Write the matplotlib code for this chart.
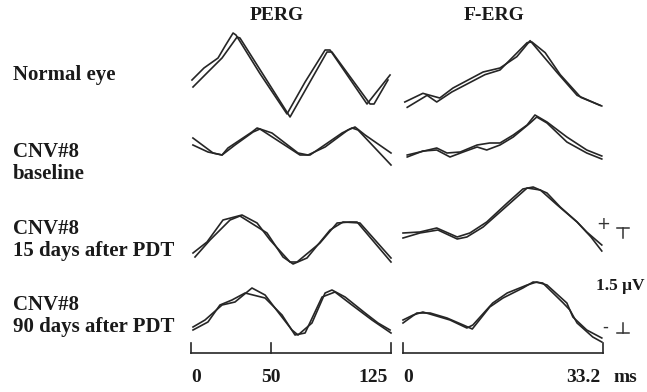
import matplotlib
matplotlib.use("Agg")
import matplotlib.pyplot as plt
import numpy as np

# PERG traces : temps (ms), amplitude (µV) relative à la ligne de base de chaque ligne
perg_t = [
    ([0.6, 8.1, 16.9, 21.3, 26.3, 28.1, 43.0, 60.0, 71.3, 83.8, 86.9, 110.0, 124.4],
     [1.25, 10.6, 19.4, 28.8, 30.6, 61.9, 85.0, 88.1, 111.9, 114.4, 123.1]),
    ([1.2, 13.8, 19.4, 23.1, 38.1, 41.3, 50.6, 66.9, 73.1, 83.8, 98.1, 102.5, 108.8, 125.0],
     [1.2, 10.6, 19.4, 27.5, 38.8, 43.1, 68.1, 74.4, 94.4, 100.6, 104.4, 125.0]),
    ([1.25, 10.0, 20.0, 31.9, 41.3, 49.4, 61.9, 66.3, 80.6, 91.3, 99.4, 103.8, 125.0],
     [2.5, 11.9, 24.4, 30.6, 47.5, 57.5, 63.8, 72.5, 86.9, 95.0, 105.6, 125.0]),
    ([1.25, 8.75, 19.4, 27.5, 38.1, 46.3, 54.4, 63.1, 66.9, 75.6, 83.8, 88.1, 96.3, 108.8, 116.9, 124.4],
     [1.25, 10.6, 18.1, 25.6, 33.8, 46.3, 56.9, 65.0, 71.3, 81.9, 90.0, 100.6, 113.1, 125.0]),
]
perg_v = [
    ([0.0, 0.18, 0.33, 0.51, 0.705, 0.675, 0.1, -0.51, -0.03, 0.45, 0.45, -0.36, 0.075],
     [-0.105, 0.12, 0.33, 0.645, 0.63, -0.555, 0.42, 0.42, -0.36, -0.36, 0.0]),
    ([0.105, -0.12, -0.15, -0.045, 0.195, 0.255, 0.18, -0.12, -0.15, -0.03, 0.225, 0.27, 0.15, -0.12],
     [0.0, -0.105, -0.15, 0.0, 0.195, 0.24, -0.15, -0.15, 0.18, 0.255, 0.225, -0.3]),
    ([-0.195, -0.03, 0.3, 0.375, 0.255, 0.0, -0.33, -0.33, -0.045, 0.255, 0.27, 0.27, -0.33],
     [-0.255, 0.0, 0.3, 0.36, 0.105, -0.255, -0.36, -0.27, 0.15, 0.27, 0.255, -0.27]),
    ([-0.18, -0.075, 0.15, 0.195, 0.405, 0.3, 0.045, -0.225, -0.3, -0.12, 0.33, 0.375, 0.27, 0.03, -0.12, -0.225],
     [-0.225, -0.105, 0.15, 0.225, 0.33, 0.255, 0.0, -0.3, -0.27, 0.27, 0.345, 0.15, -0.075, -0.27]),
]

# F-ERG traces
ferg_t = [
    ([0.3, 3.3, 6.1, 8.3, 13.3, 16.1, 18.9, 21.1, 22.7, 25.6, 28.9, 32.7],
     [0.7, 4.0, 5.6, 8.1, 13.6, 16.1, 20.6, 21.4, 23.6, 26.1, 29.5, 33.0]),
    ([0.7, 2.8, 5.6, 7.3, 9.5, 12.3, 14.4, 16.1, 18.3, 20.6, 21.9, 23.9, 27.2, 30.5, 33.0],
     [0.7, 3.3, 5.6, 7.8, 10.0, 12.3, 13.9, 16.1, 18.3, 21.1, 22.2, 23.9, 27.2, 30.5, 33.0]),
    ([0.0, 2.8, 5.6, 9.0, 11.1, 13.9, 17.3, 19.9, 21.6, 23.9, 26.1, 28.9, 30.5, 33.0],
     [0.0, 2.8, 5.8, 9.0, 10.6, 13.3, 17.8, 20.6, 22.8, 25.6, 28.9, 31.2, 33.0]),
    ([0.0, 1.7, 3.3, 5.0, 7.8, 10.6, 11.6, 14.9, 17.3, 20.6, 22.2, 23.9, 27.2, 28.2, 30.5, 33.0],
     [0.0, 2.3, 4.5, 7.3, 10.0, 11.5, 14.4, 16.6, 19.9, 21.6, 23.2, 26.6, 27.7, 28.9, 31.5, 33.0]),
]
ferg_v = [
    ([-0.33, -0.2, -0.27, -0.12, 0.12, 0.18, 0.35, 0.59, 0.42, 0.11, -0.23, -0.38],
     [-0.41, -0.23, -0.33, -0.18, 0.08, 0.15, 0.56, 0.57, 0.41, 0.08, -0.26, -0.39]),
    ([-0.15, -0.105, -0.045, -0.12, -0.105, 0.0, 0.03, 0.03, 0.15, 0.3, 0.45, 0.345, 0.12, -0.075, -0.165],
     [-0.18, -0.09, -0.075, -0.18, -0.105, -0.03, -0.075, 0.0, 0.12, 0.33, 0.42, 0.33, 0.045, -0.12, -0.21]),
    ([0.105, 0.12, 0.18, 0.045, 0.105, 0.27, 0.555, 0.765, 0.795, 0.705, 0.495, 0.27, 0.12, -0.075],
     [0.03, 0.105, 0.15, 0.015, 0.045, 0.195, 0.555, 0.78, 0.75, 0.525, 0.27, 0.045, -0.165]),
    ([-0.075, 0.0, 0.045, 0.0, -0.075, -0.195, -0.15, 0.18, 0.33, 0.45, 0.495, 0.45, 0.18, -0.03, -0.225, -0.345],
     [-0.12, 0.03, 0.03, -0.045, -0.15, -0.21, 0.12, 0.255, 0.405, 0.495, 0.48, 0.18, 0.075, -0.12, -0.33, -0.405]),
]

labels = ["Normal eye", "CNV#8\nbaseline", "CNV#8\n15 days after PDT", "CNV#8\n90 days after PDT"]
perg_ticks = [0, 50, 125]
perg_ticklabels = ["0", "50", "125"]
ferg_ticks = [0, 33.2]
ferg_ticklabels = ["0", "33.2"]
calib_uv = 1.5

# mise en page (en pixels de la figure 647x392)
W, H = 647, 392
uv_par_px = 0.015
decalages = [(H - py) * uv_par_px for py in (80, 145, 240, 315)]
y_barre = (H - 353) * uv_par_px
h_tick = 10 * uv_par_px
y_txt = (H - 378) * uv_par_px
ms_px_p = 125 / 200
ms_px_f = 33.2 / 200

serif = dict(family="Liberation Serif", fontweight="bold", color="#1a1a1a")
c_trace = "#262626"

fig = plt.figure(figsize=(W / 100, H / 100), dpi=100)
ax_p = fig.add_axes([191 / W, 0, 200 / W, 1])
ax_f = fig.add_axes([403 / W, 0, 200 / W, 1])
ax_p.set_xlim(0, 125)
ax_f.set_xlim(0, 33.2)
for ax in (ax_p, ax_f):
    ax.set_ylim(0, H * uv_par_px)
    ax.axis("off")

for i in range(4):
    for k in range(2):
        ax_p.plot(perg_t[i][k], np.array(perg_v[i][k]) + decalages[i], color=c_trace, lw=1.2,
                  solid_joinstyle="round", clip_on=False)
        ax_f.plot(ferg_t[i][k], np.array(ferg_v[i][k]) + decalages[i], color=c_trace, lw=1.2,
                  solid_joinstyle="round", clip_on=False)

# barres de temps
for ax, ticks, tl, mpx in ((ax_p, perg_ticks, perg_ticklabels, ms_px_p),
                           (ax_f, ferg_ticks, ferg_ticklabels, ms_px_f)):
    ax.plot([ticks[0], ticks[-1]], [y_barre, y_barre], color=c_trace, lw=1.2, clip_on=False)
    for t, s in zip(ticks, tl):
        ax.plot([t, t], [y_barre, y_barre + h_tick], color=c_trace, lw=1.2, clip_on=False)
        if t == ticks[0]:
            ax.text(t, y_txt, s, ha="left", va="center", fontsize=14, **serif)
        elif t == ticks[-1]:
            ax.text(t - 3 * mpx, y_txt, s, ha="right", va="center", fontsize=14, **serif)
        else:
            ax.text(t, y_txt, s, ha="center", va="center", fontsize=14, **serif)
ax_f.text(33.2 + 10 * ms_px_f, y_txt, "ms", ha="left", va="center", fontsize=14, **serif)

# calibration 1.5 µV
xc = (623 - 403) * ms_px_f
dx = 6 * ms_px_f
y_haut = (H - 228) * uv_par_px
y_bas = (H - 333) * uv_par_px
ax_f.plot([xc - dx, xc + dx], [y_haut, y_haut], color="#333", lw=1.1, clip_on=False)
ax_f.plot([xc, xc], [y_haut, y_haut - 10 * uv_par_px], color="#333", lw=1.1, clip_on=False)
ax_f.plot([xc - dx, xc + dx], [y_bas, y_bas], color="#333", lw=1.1, clip_on=False)
ax_f.plot([xc, xc], [y_bas, y_bas + 10 * uv_par_px], color="#333", lw=1.1, clip_on=False)
ax_f.text(xc - 20 * ms_px_f, y_haut + 4 * uv_par_px, "+", ha="center", va="center", fontsize=12, color="#333")
ax_f.text(xc - 18 * ms_px_f, y_bas + 6 * uv_par_px, "-", ha="center", va="center", fontsize=12, color="#333")
ax_f.text(xc - 27 * ms_px_f, (H - 286) * uv_par_px, f"{calib_uv} \u03bcV", ha="left", va="center",
          fontsize=12.5, **serif)

# titres de colonnes
fig.text(277 / W, 1 - 16 / H, "PERG", ha="center", va="center", fontsize=14, **serif)
fig.text(494 / W, 1 - 16 / H, "F-ERG", ha="center", va="center", fontsize=14, **serif)

# étiquettes des lignes
pos_y = [75, 163, 240, 316]
for lab, py in zip(labels, pos_y):
    fig.text(13 / W, 1 - py / H, lab, ha="left", va="center", fontsize=15, linespacing=1.15, **serif)

fig.savefig("out.png", dpi=100, facecolor="white")
